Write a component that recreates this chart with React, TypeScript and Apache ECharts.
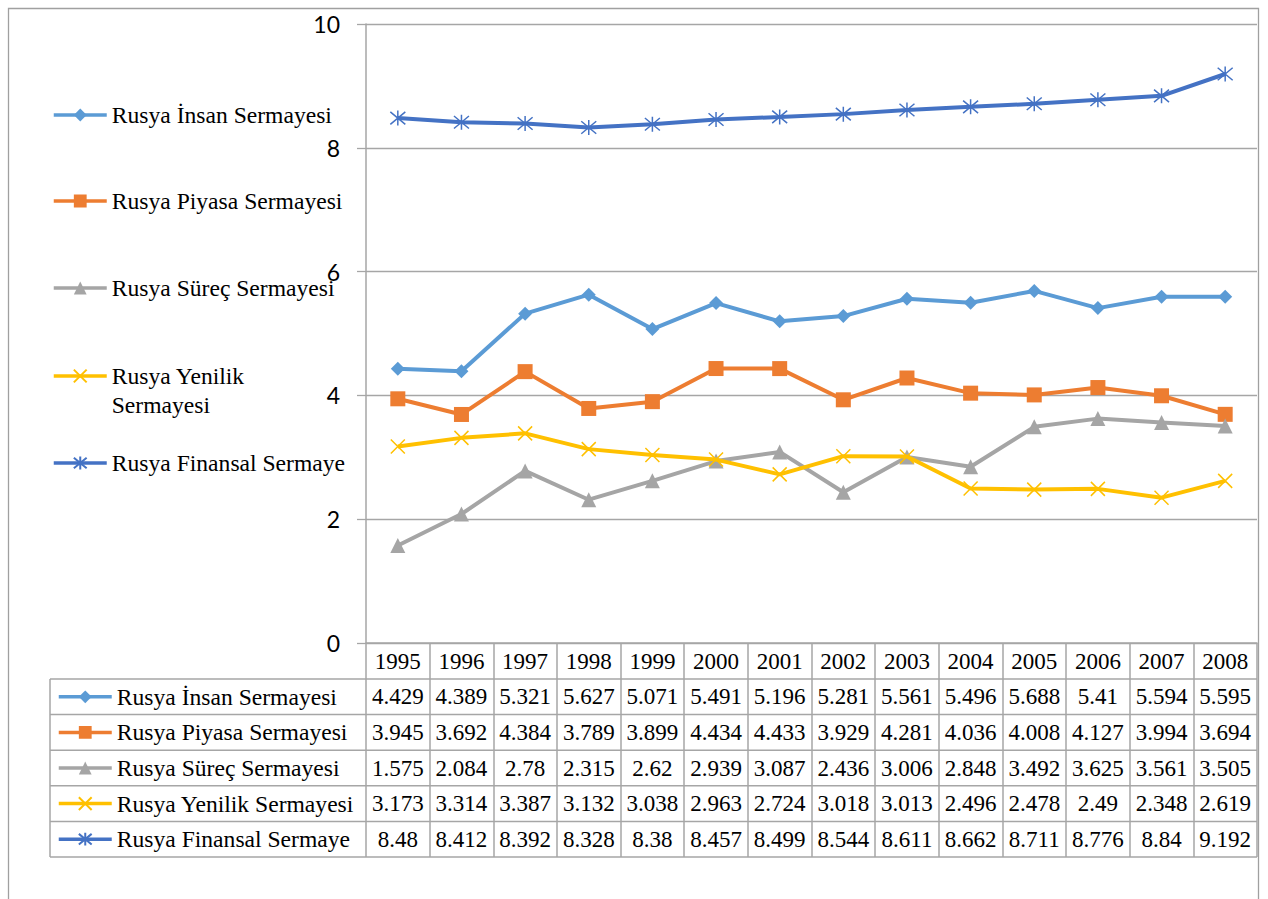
import React, { useEffect, useRef } from "react";
import * as echarts from "echarts";

// Years on the category axis (also the header row of the data table)
const years = ["1995", "1996", "1997", "1998", "1999", "2000", "2001", "2002", "2003", "2004", "2005", "2006", "2007", "2008"];

const seriesNames = [
  "Rusya İnsan Sermayesi",
  "Rusya Piyasa Sermayesi",
  "Rusya Süreç Sermayesi",
  "Rusya Yenilik Sermayesi",
  "Rusya Finansal Sermaye",
];

const insan = [4.429, 4.389, 5.321, 5.627, 5.071, 5.491, 5.196, 5.281, 5.561, 5.496, 5.688, 5.41, 5.594, 5.595];
const piyasa = [3.945, 3.692, 4.384, 3.789, 3.899, 4.434, 4.433, 3.929, 4.281, 4.036, 4.008, 4.127, 3.994, 3.694];
const surec = [1.575, 2.084, 2.78, 2.315, 2.62, 2.939, 3.087, 2.436, 3.006, 2.848, 3.492, 3.625, 3.561, 3.505];
const yenilik = [3.173, 3.314, 3.387, 3.132, 3.038, 2.963, 2.724, 3.018, 3.013, 2.496, 2.478, 2.49, 2.348, 2.619];
const finansal = [8.48, 8.412, 8.392, 8.328, 8.38, 8.457, 8.499, 8.544, 8.611, 8.662, 8.711, 8.776, 8.84, 9.192];

const yTicks = { min: 0, max: 10, interval: 2 };

const seriesData = [insan, piyasa, surec, yenilik, finansal];
const colors = ["#5B9BD5", "#ED7D31", "#A5A5A5", "#FFC000", "#4472C4"];

// Marker shapes: diamond, square, triangle, x-cross, star
const X_MARK = "path://M0,0L10,10M10,0L0,10";
const STAR_MARK = "path://M1,1L11,11M11,1L1,11M6,0L6,12";
const symbols = ["diamond", "rect", "triangle", X_MARK, STAR_MARK];
const symbolSizes = [14, 15, 15, 14, 15];

// Layout
const W = 1268;
const H = 899;
const GRID_LEFT = 366;
const GRID_RIGHT_X = 1257;
const GRID_TOP = 24;
const GRID_BOTTOM_Y = 643;
const HEADER_BOTTOM = 679;
const ROW_H = 35.6;
const TABLE_LEFT = 50;

const SERIF = "'Liberation Serif', 'Times New Roman', serif";

export default function App() {
  const ref = useRef<HTMLDivElement>(null);

  useEffect(() => {
    if (!ref.current) return;
    const chart = echarts.init(ref.current, null, { renderer: "svg" });

    const nRows = seriesNames.length;
    const tableBottom = HEADER_BOTTOM + ROW_H * nRows;
    const bandW = (GRID_RIGHT_X - GRID_LEFT) / years.length;
    const rowCenter = (i: number) => HEADER_BOTTOM + ROW_H * (i + 0.5);

    const labelText = { fontFamily: SERIF, fontSize: 23.6, color: "#000", lineHeight: 29 };

    const legendCommon = {
      show: true,
      padding: 0,
      itemWidth: 53,
      itemHeight: 16,
      selectedMode: false,
      lineStyle: { width: 3.5 },
    };

    // Legend on the left side of the plot; the Yenilik entry wraps onto a second line
    const sideCenters = [115, 201, 288, 376, 463];
    const sideLegends = seriesNames.map((name, i) => {
      const wrapped = i === 3;
      return {
        ...legendCommon,
        left: 52,
        top: wrapped ? sideCenters[i] - 43.5 : sideCenters[i] - 14.5,
        data: [name],
        formatter: wrapped ? () => " \nRusya Yenilik\nSermayesi" : undefined,
        textStyle: labelText,
      };
    });

    // Legend keys in the first column of the data table
    const tableLegends = seriesNames.map((name, i) => ({
      ...legendCommon,
      left: 57,
      top: rowCenter(i) - 14.5,
      data: [name],
      textStyle: labelText,
    }));

    const lineColor = "#a6a6a6";
    const graphics: any[] = [
      {
        type: "rect",
        shape: { x: 8.5, y: 8.5, width: 1250, height: 1000 },
        style: { fill: "none", stroke: "#a0a0a0", lineWidth: 1.3 },
        silent: true,
      },
      {
        type: "line",
        shape: { x1: TABLE_LEFT, y1: HEADER_BOTTOM, x2: TABLE_LEFT, y2: tableBottom },
        style: { stroke: lineColor, lineWidth: 1.5 },
        silent: true,
      },
    ];
    for (let r = 0; r <= nRows; r++) {
      const y = HEADER_BOTTOM + ROW_H * r;
      graphics.push({
        type: "line",
        shape: { x1: TABLE_LEFT, y1: y, x2: GRID_RIGHT_X, y2: y },
        style: { stroke: lineColor, lineWidth: 1.5 },
        silent: true,
      });
    }
    seriesData.forEach((values, r) => {
      values.forEach((v, c) => {
        graphics.push({
          type: "text",
          x: GRID_LEFT + bandW * (c + 0.5),
          y: rowCenter(r),
          style: {
            text: String(v),
            fontFamily: SERIF,
            fontSize: 23,
            fill: "#000",
            align: "center",
            verticalAlign: "middle",
          },
          silent: true,
        });
      });
    });

    chart.setOption({
      animation: false,
      backgroundColor: "#fff",
      color: colors,
      legend: [...sideLegends, ...tableLegends],
      grid: {
        left: GRID_LEFT,
        right: W - GRID_RIGHT_X,
        top: GRID_TOP,
        bottom: H - GRID_BOTTOM_Y,
        containLabel: false,
      },
      xAxis: {
        type: "category",
        data: years,
        boundaryGap: true,
        axisLine: { show: true, lineStyle: { color: lineColor, width: 1.5 } },
        axisTick: {
          show: true,
          length: tableBottom - GRID_BOTTOM_Y,
          lineStyle: { color: lineColor, width: 1.5 },
        },
        axisLabel: {
          show: true,
          margin: 0,
          fontFamily: SERIF,
          fontSize: 23,
          lineHeight: HEADER_BOTTOM - GRID_BOTTOM_Y,
          color: "#000",
        },
        splitLine: { show: false },
      },
      yAxis: {
        type: "value",
        min: yTicks.min,
        max: yTicks.max,
        interval: yTicks.interval,
        axisLine: { show: true, lineStyle: { color: lineColor, width: 1.5 } },
        axisTick: { show: true, length: 9, lineStyle: { color: lineColor, width: 1.3 } },
        axisLabel: {
          margin: 26,
          fontFamily: "Lato, 'Open Sans', sans-serif",
          fontSize: 23,
          color: "#000",
        },
        splitLine: { show: true, lineStyle: { color: lineColor, width: 1.3 } },
      },
      series: seriesNames.map((name, i) => {
        const stroked = i >= 3;
        return {
          name,
          type: "line",
          data: seriesData[i],
          symbol: symbols[i],
          symbolSize: symbolSizes[i],
          showSymbol: true,
          lineStyle: { width: 4, color: colors[i] },
          itemStyle: stroked
            ? { color: colors[i], borderColor: colors[i], borderWidth: 1.5 }
            : { color: colors[i] },
          emphasis: { disabled: true },
          z: 2 + i,
        };
      }),
      graphic: graphics,
    });

    return () => chart.dispose();
  }, []);

  return (
    <div
      ref={ref}
      style={{ position: "absolute", left: 0, top: 0, width: W, height: H, background: "#fff" }}
    />
  );
}
